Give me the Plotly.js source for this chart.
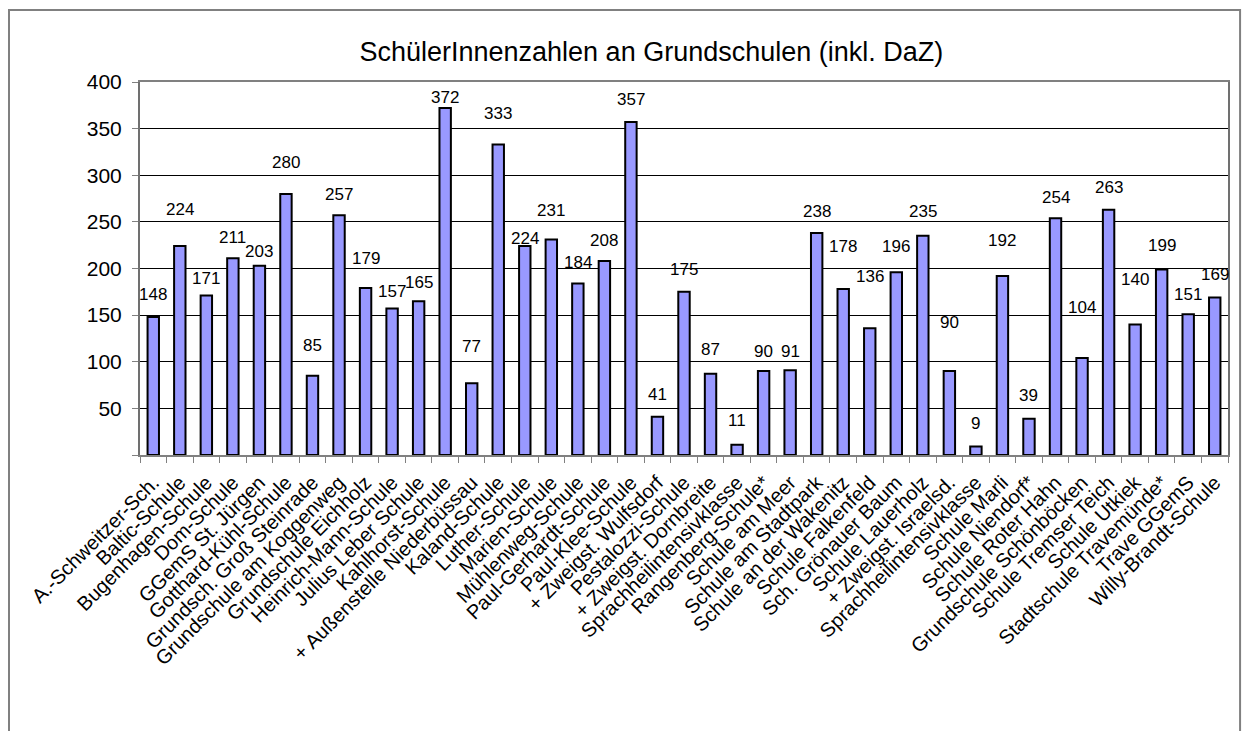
<!DOCTYPE html>
<html>
<head>
<meta charset="utf-8">
<script src="https://cdn.plot.ly/plotly-3.0.1.min.js"></script>
<style>html,body{margin:0;padding:0;background:#fff;}#chart{width:1246px;height:731px;}</style>
</head>
<body>
<div id="chart"></div>
<script>
const schools = [
  "A.-Schweitzer-Sch.", "Baltic-Schule", "Bugenhagen-Schule", "Dom-Schule", "GGemS St. Jürgen",
  "Gotthard-Kühl-Schule", "Grundsch. Groß Steinrade", "Grundschule am Koggenweg", "Grundschule Eichholz",
  "Heinrich-Mann-Schule", "Julius Leber Schule", "Kahlhorst-Schule", "+ Außenstelle Niederbüssau",
  "Kaland-Schule", "Luther-Schule", "Marien-Schule", "Mühlenweg-Schule", "Paul-Gerhardt-Schule",
  "Paul-Klee-Schule", "+ Zweigst. Wulfsdorf", "Pestalozzi-Schule", "+ Zweigst. Dornbreite",
  "Sprachheilintensivklasse", "Rangenberg-Schule*", "Schule am Meer", "Schule am Stadtpark",
  "Schule an der Wakenitz", "Schule Falkenfeld", "Sch. Grönauer Baum", "Schule Lauerholz",
  "+ Zweigst. Israelsd.", "Sprachheilintensivklasse", "Schule Marli", "Schule Niendorf*",
  "Schule Roter Hahn", "Grundschule Schönböcken", "Schule Tremser Teich", "Schule Utkiek",
  "Stadtschule Travemünde*", "Trave GGemS", "Willy-Brandt-Schule"
];
const pupils = [148, 224, 171, 211, 203, 280, 85, 257, 179, 157, 165, 372, 77, 333, 224, 231, 184, 208,
  357, 41, 175, 87, 11, 90, 91, 238, 178, 136, 196, 235, 90, 9, 192, 39, 254, 104, 263, 140, 199, 151, 169];
const yTickValues = [0, 50, 100, 150, 200, 250, 300, 350, 400];
const yTickLabels = ["", "50", "100", "150", "200", "250", "300", "350", "400"];

// layout only: how far (px) each value label sits above its bar in the original
const labelLift = [22, 37, 17, 21, 14, 31, 30, 21, 30, 17, 19, 11, 37, 31, 8, 29, 21, 21, 23, 22, 22, 24,
  24, 20, 19, 22, 43, 52, 26, 24, 49, 23, 35, 23, 21, 51, 22, 45, 24, 20, 23];

const idx = schools.map((_, i) => i);
const FONT = "Arial, 'Liberation Sans', sans-serif";

const trace = {
  type: "bar",
  x: idx,
  y: pupils,
  marker: { color: "#9999FF", line: { color: "#000000", width: 2 } },
  hoverinfo: "skip"
};

const annotations = pupils.map((v, i) => ({
  x: i, y: v, xref: "x", yref: "y",
  text: String(v), showarrow: false,
  yanchor: "middle", xanchor: "center",
  yshift: labelLift[i],
  font: { family: FONT, size: 17, color: "#000" }
}));

const layout = {
  width: 1246, height: 731,
  margin: { l: 140, r: 18, t: 82, b: 276 },
  paper_bgcolor: "#ffffff",
  plot_bgcolor: "#ffffff",
  showlegend: false,
  bargap: 0.57,
  font: { family: FONT, color: "#000" },
  title: {
    text: "SchülerInnenzahlen an Grundschulen (inkl. DaZ)",
    font: { family: FONT, size: 27, color: "#000" },
    x: 0.47, xref: "paper", xanchor: "center",
    y: 0.929, yref: "container", yanchor: "middle"
  },
  xaxis: {
    range: [-0.5, 40.5],
    tickmode: "array", tickvals: idx, ticktext: schools,
    tickangle: -45,
    ticks: "",
    ticklabelstandoff: 6,
    tickfont: { family: FONT, size: 20, color: "#000" },
    showgrid: false, zeroline: false,
    showline: true, linecolor: "#808080", linewidth: 2, mirror: true,
    minor: { tickmode: "linear", tick0: -0.5, dtick: 1, ticks: "outside", ticklen: 6, tickcolor: "#808080", tickwidth: 1, showgrid: false },
    fixedrange: true
  },
  yaxis: {
    range: [0, 400],
    tickmode: "array", tickvals: yTickValues, ticktext: yTickLabels,
    ticks: "outside", ticklen: 6, tickcolor: "#808080", tickwidth: 1,
    ticklabelstandoff: 6,
    tickfont: { family: FONT, size: 21, color: "#000" },
    showgrid: true, gridcolor: "#000000", gridwidth: 1,
    zeroline: false,
    showline: true, linecolor: "#707070", linewidth: 2, mirror: true,
    fixedrange: true
  },
  shapes: [{
    type: "rect", xref: "paper", yref: "paper",
    x0: -0.1204, x1: 1.0111, y0: -0.76, y1: 1.193,
    line: { color: "#808080", width: 2 }, fillcolor: "rgba(0,0,0,0)", layer: "below"
  }],
  annotations: annotations
};

Plotly.newPlot("chart", [trace], layout, { displayModeBar: false, staticPlot: true });
</script>
</body>
</html>
